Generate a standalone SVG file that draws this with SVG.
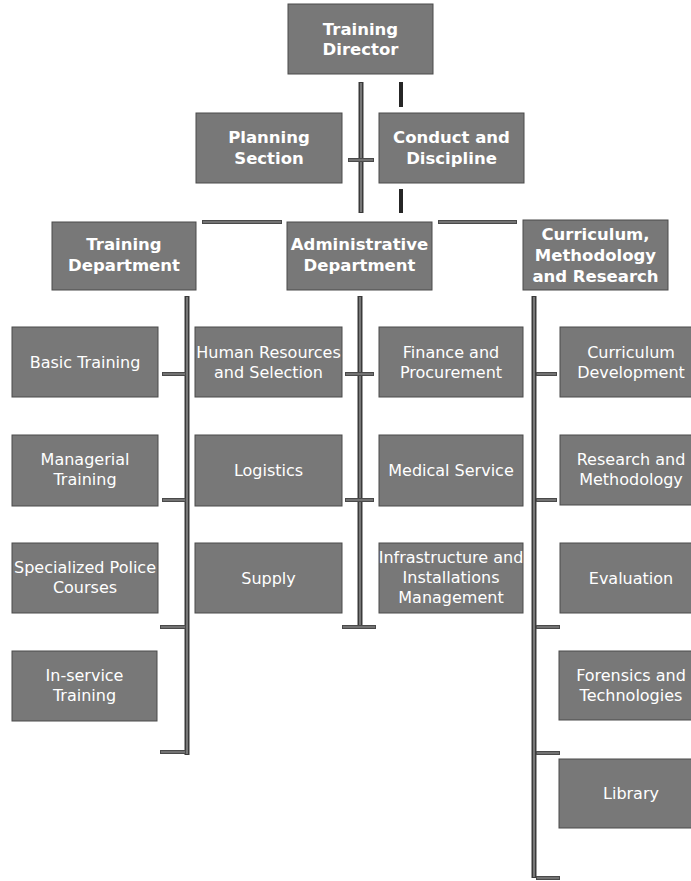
<svg xmlns="http://www.w3.org/2000/svg" width="691" height="881" viewBox="0 0 691 881">
<style>
.box{fill:#787878;stroke:#4a4a4a;stroke-width:1}
.t{font-family:"DejaVu Sans",Verdana,sans-serif;fill:#ffffff;text-anchor:middle}
.b{font-weight:bold;font-size:16.5px}
.r{font-size:16px}
.ln{stroke:#3a3a3a;stroke-width:5;fill:none}
.core{stroke:#8c8c8c;stroke-width:1.5;fill:none}
.tk{stroke:#4a4a4a;stroke-width:4;fill:none}
.tkc{stroke:#9a9a9a;stroke-width:1.2;fill:none}
.dash{stroke:#262626;stroke-width:4;fill:none}
</style>
<rect width="691" height="881" fill="#ffffff"/>
<g id="connectors">
<path class="ln" d="M361 82V213M187 296V755M360 296V628M534 296V878"/>
<path class="core" d="M361 83V212M187 297V754M360 297V627M534 297V877"/>
<path class="dash" d="M401 82V107M401 189V213"/>
<path class="tk" d="M348 160H374M202 222H282M438 222H517M162 374H186M162 500H186M160 627H186M160 752H186M345 374H374M345 500H374M342 627H376M536 374H557M536 500H557M536 627H560M536 753H560M536 878H560"/>
<path class="tkc" d="M349 160H373M203 222H281M439 222H516M163 374H185M163 500H185M161 627H185M161 752H185M346 374H373M346 500H373M343 627H375M537 374H556M537 500H556M537 627H559M537 753H559M537 878H559"/>
</g>
<g id="training-director"><rect class="box" x="288" y="4" width="145" height="70"/><text class="t b" x="360.5" y="35">Training</text><text class="t b" x="360.5" y="55">Director</text></g>
<g id="planning-section"><rect class="box" x="196" y="113" width="146" height="70"/><text class="t b" x="269" y="143">Planning</text><text class="t b" x="269" y="164">Section</text></g>
<g id="conduct-discipline"><rect class="box" x="379" y="113" width="145" height="70"/><text class="t b" x="451.5" y="143">Conduct and</text><text class="t b" x="451.5" y="164">Discipline</text></g>
<g id="training-department"><rect class="box" x="52" y="222" width="144" height="68"/><text class="t b" x="124" y="250">Training</text><text class="t b" x="124" y="271">Department</text></g>
<g id="administrative-department"><rect class="box" x="287" y="222" width="145" height="68"/><text class="t b" x="359.5" y="250">Administrative</text><text class="t b" x="359.5" y="271">Department</text></g>
<g id="curriculum-methodology-research"><rect class="box" x="523" y="220" width="145" height="70"/><text class="t b" x="595.5" y="240">Curriculum,</text><text class="t b" x="595.5" y="261">Methodology</text><text class="t b" x="595.5" y="282">and Research</text></g>
<g id="basic-training"><rect class="box" x="12" y="327" width="146" height="70"/><text class="t r" x="85" y="368">Basic Training</text></g>
<g id="managerial-training"><rect class="box" x="12" y="435" width="146" height="71"/><text class="t r" x="85" y="465">Managerial</text><text class="t r" x="85" y="485">Training</text></g>
<g id="specialized-police-courses"><rect class="box" x="12" y="543" width="146" height="70"/><text class="t r" x="85" y="573">Specialized Police</text><text class="t r" x="85" y="593">Courses</text></g>
<g id="in-service-training"><rect class="box" x="12" y="651" width="145" height="70"/><text class="t r" x="84.5" y="681">In-service</text><text class="t r" x="84.5" y="701">Training</text></g>
<g id="human-resources"><rect class="box" x="195" y="327" width="147" height="70"/><text class="t r" x="268.5" y="358">Human Resources</text><text class="t r" x="268.5" y="378">and Selection</text></g>
<g id="logistics"><rect class="box" x="195" y="435" width="147" height="71"/><text class="t r" x="268.5" y="476">Logistics</text></g>
<g id="supply"><rect class="box" x="195" y="543" width="147" height="70"/><text class="t r" x="268.5" y="584">Supply</text></g>
<g id="finance-procurement"><rect class="box" x="379" y="327" width="144" height="70"/><text class="t r" x="451" y="358">Finance and</text><text class="t r" x="451" y="378">Procurement</text></g>
<g id="medical-service"><rect class="box" x="379" y="435" width="144" height="71"/><text class="t r" x="451" y="476">Medical Service</text></g>
<g id="infrastructure"><rect class="box" x="379" y="543" width="144" height="70"/><text class="t r" x="451" y="563">Infrastructure and</text><text class="t r" x="451" y="583">Installations</text><text class="t r" x="451" y="603">Management</text></g>
<g id="curriculum-development"><rect class="box" x="560" y="327" width="146" height="70"/><text class="t r" x="631" y="358">Curriculum</text><text class="t r" x="631" y="378">Development</text></g>
<g id="research-methodology"><rect class="box" x="560" y="435" width="146" height="70"/><text class="t r" x="631" y="465">Research and</text><text class="t r" x="631" y="485">Methodology</text></g>
<g id="evaluation"><rect class="box" x="560" y="543" width="146" height="70"/><text class="t r" x="631" y="584">Evaluation</text></g>
<g id="forensics"><rect class="box" x="559" y="651" width="147" height="69"/><text class="t r" x="631" y="681">Forensics and</text><text class="t r" x="631" y="701">Technologies</text></g>
<g id="library"><rect class="box" x="559" y="759" width="147" height="69"/><text class="t r" x="631" y="799">Library</text></g>
</svg>
